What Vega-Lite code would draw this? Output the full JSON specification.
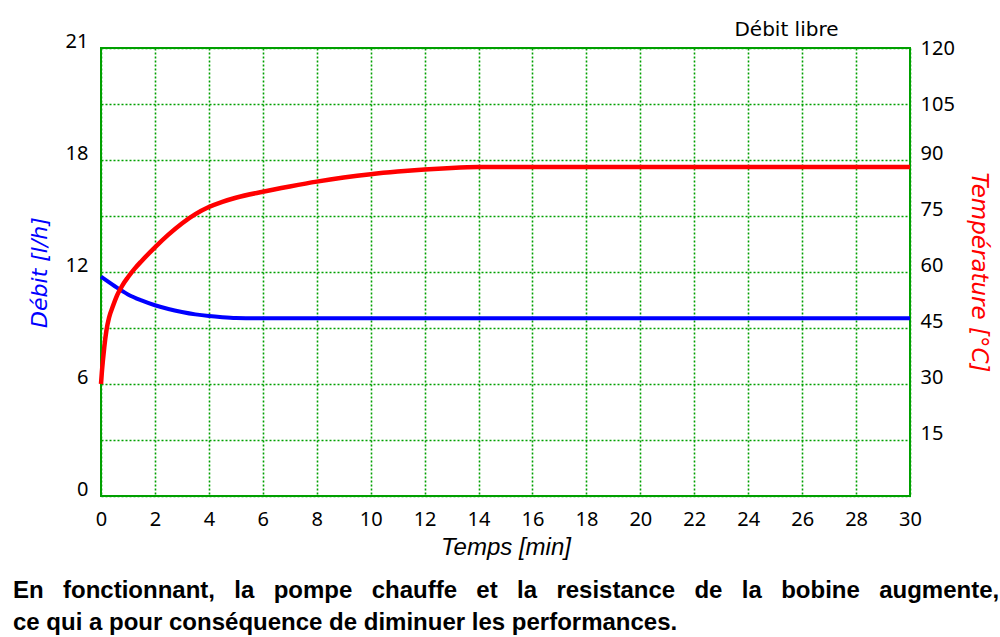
{
  "$schema": "https://vega.github.io/schema/vega-lite/v6.json",
  "width": 809,
  "height": 448,
  "autosize": {"type": "none"},
  "padding": {"left": 101, "top": 48, "right": 90, "bottom": 141},
  "background": "white",
  "config": {
    "view": {"stroke": "#00A000", "strokeWidth": 2},
    "font": "Noto Sans"
  },
  "title": {
    "text": [
      "En \u00a0\u2005fonctionnant, \u00a0\u2005la \u00a0\u2005pompe \u00a0\u2005chauffe \u00a0\u2005et \u00a0\u2005la \u00a0\u2005resistance \u00a0\u2005de \u00a0\u2005la \u00a0\u2005bobine \u00a0\u2005augmente,",
      "ce qui a pour conséquence de diminuer les performances."
    ],
    "orient": "bottom",
    "anchor": "start",
    "frame": "group",
    "font": "Liberation Sans",
    "fontWeight": "bold",
    "fontSize": 24,
    "lineHeight": 32,
    "color": "black",
    "dx": -88,
    "offset": 20
  },
  "datasets": {
    "debit": [
      {"t": 0, "debit": 11.75},
      {"t": 0.5, "debit": 11.25},
      {"t": 1, "debit": 10.8},
      {"t": 1.5, "debit": 10.48},
      {"t": 2, "debit": 10.22},
      {"t": 2.5, "debit": 10.02},
      {"t": 3, "debit": 9.86},
      {"t": 3.5, "debit": 9.73},
      {"t": 4, "debit": 9.64},
      {"t": 4.5, "debit": 9.58},
      {"t": 5, "debit": 9.54},
      {"t": 6, "debit": 9.52},
      {"t": 8, "debit": 9.52},
      {"t": 10, "debit": 9.52},
      {"t": 15, "debit": 9.52},
      {"t": 20, "debit": 9.52},
      {"t": 25, "debit": 9.52},
      {"t": 30, "debit": 9.52}
    ],
    "temperature": [
      {"t": 0, "temp": 30},
      {"t": 0.03, "temp": 33},
      {"t": 0.07, "temp": 36.2},
      {"t": 0.12, "temp": 39.8},
      {"t": 0.2, "temp": 44.3},
      {"t": 0.3, "temp": 47.8},
      {"t": 0.45, "temp": 51},
      {"t": 0.6, "temp": 53.8},
      {"t": 0.8, "temp": 56.5},
      {"t": 1.0, "temp": 58.6},
      {"t": 1.25, "temp": 60.9},
      {"t": 1.5, "temp": 62.9},
      {"t": 2.0, "temp": 66.6},
      {"t": 2.5, "temp": 70.0},
      {"t": 3.0, "temp": 73.0},
      {"t": 3.5, "temp": 75.5},
      {"t": 4.0, "temp": 77.4},
      {"t": 4.5, "temp": 78.8},
      {"t": 5.0, "temp": 79.9},
      {"t": 6.0, "temp": 81.5},
      {"t": 7.0, "temp": 82.9},
      {"t": 8.0, "temp": 84.2},
      {"t": 9.0, "temp": 85.3},
      {"t": 10.0, "temp": 86.2},
      {"t": 11.0, "temp": 86.9},
      {"t": 12.0, "temp": 87.45},
      {"t": 13.0, "temp": 87.85},
      {"t": 14.0, "temp": 88.1},
      {"t": 15, "temp": 88.15},
      {"t": 20, "temp": 88.15},
      {"t": 25, "temp": 88.15},
      {"t": 30, "temp": 88.15}
    ]
  },
  "layer": [
    {
      "data": {"name": "debit"},
      "mark": {"type": "line", "color": "#0000FF", "strokeWidth": 4, "interpolate": "monotone"},
      "encoding": {
        "x": {
          "field": "t",
          "type": "quantitative",
          "scale": {"domain": [0, 30], "nice": false},
          "axis": {
            "orient": "bottom",
            "values": [0, 2, 4, 6, 8, 10, 12, 14, 16, 18, 20, 22, 24, 26, 28, 30],
            "grid": true,
            "gridColor": "#00A000",
            "gridDash": [2, 2],
            "gridWidth": 1.6,
            "ticks": false,
            "domain": false,
            "labelFont": "Noto Sans",
            "labelFontSize": 20,
            "labelColor": "black",
            "labelPadding": 13,
            "labelFlush": false,
            "title": "Temps [min]",
            "titleFont": "Liberation Sans",
            "titleFontSize": 24,
            "titleFontStyle": "italic",
            "titleFontWeight": "normal",
            "titleColor": "black",
            "titlePadding": 6
          }
        },
        "y": {
          "field": "debit",
          "type": "quantitative",
          "scale": {"domain": [0, 24], "nice": false},
          "axis": {
            "orient": "left",
            "values": [0, 3, 6, 9, 12, 15, 18, 21, 24],
            "labelExpr": "datum.value == 24 ? '21' : (datum.value % 6 == 0 ? datum.label : '')",
            "grid": true,
            "gridColor": "#00A000",
            "gridDash": [2, 2],
            "gridWidth": 1.6,
            "ticks": false,
            "domain": false,
            "labelFont": "Noto Sans",
            "labelFontSize": 20,
            "labelColor": "black",
            "labelPadding": 13,
            "labelOffset": -7,
            "labelFlush": false,
            "title": "Débit [l/h]",
            "titleFont": "DejaVu Sans",
            "titleFontSize": 22,
            "titleFontStyle": "italic",
            "titleFontWeight": "normal",
            "titleColor": "#0000FF",
            "titlePadding": 14
          }
        }
      }
    },
    {
      "data": {"name": "temperature"},
      "mark": {"type": "line", "color": "#FF0000", "strokeWidth": 4.5, "interpolate": "monotone"},
      "encoding": {
        "x": {
          "field": "t",
          "type": "quantitative",
          "axis": {
            "orient": "top",
            "labels": false,
            "ticks": false,
            "domain": false,
            "grid": false,
            "title": "Débit libre",
            "titleFont": "DejaVu Sans",
            "titleFontSize": 20,
            "titleFontWeight": "normal",
            "titleColor": "black",
            "titleAlign": "right",
            "titleBaseline": "alphabetic",
            "titleX": 737,
            "titleY": -13
          }
        },
        "y": {
          "field": "temp",
          "type": "quantitative",
          "scale": {"domain": [0, 120], "nice": false},
          "axis": {
            "orient": "right",
            "values": [15, 30, 45, 60, 75, 90, 105, 120],
            "grid": false,
            "ticks": false,
            "domain": false,
            "labelFont": "Noto Sans",
            "labelFontSize": 20,
            "labelColor": "black",
            "labelPadding": 10,
            "labelOffset": {"condition": {"test": "datum.value >= 105", "value": 0}, "value": -7},
            "labelFlush": false,
            "title": "Température [°C]",
            "titleFont": "DejaVu Sans",
            "titleFontSize": 23,
            "titleFontStyle": "italic",
            "titleFontWeight": "normal",
            "titleColor": "#FF0000",
            "titlePadding": 12
          }
        }
      }
    }
  ],
  "resolve": {"scale": {"y": "independent"}, "axis": {"x": "independent"}}
}
